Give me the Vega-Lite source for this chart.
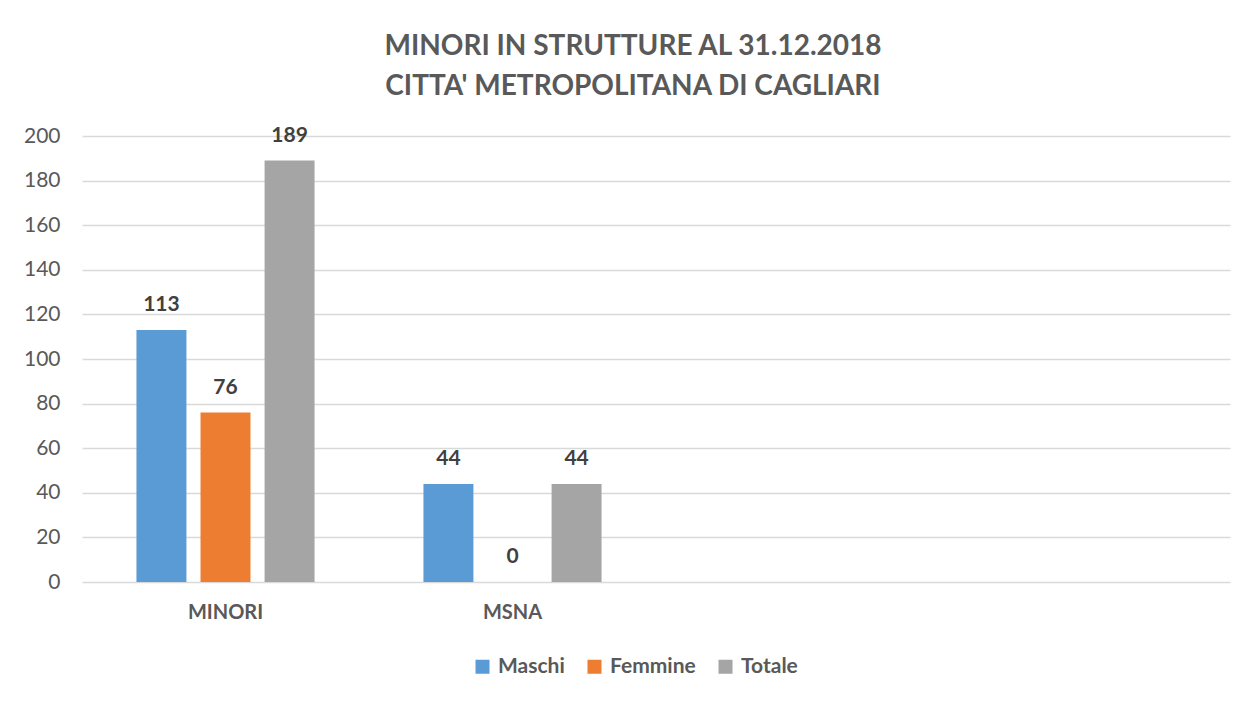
{
  "$schema": "https://vega.github.io/schema/vega-lite/v6.json",
  "width": 1148,
  "height": 446,
  "autosize": {"type": "none"},
  "padding": {"left": 82, "top": 136, "right": 28, "bottom": 120},
  "background": "white",
  "title": {
    "text": ["MINORI IN STRUTTURE AL 31.12.2018", "CITTA' METROPOLITANA DI CAGLIARI"],
    "font": "Lato",
    "fontSize": 28,
    "fontWeight": "bold",
    "color": "#595959",
    "anchor": "middle",
    "frame": "group",
    "dx": -23,
    "offset": 24,
    "lineHeight": 40
  },
  "data": {
    "values": [
      {"categoria": "MINORI", "serie": "Maschi", "valore": 113},
      {"categoria": "MINORI", "serie": "Femmine", "valore": 76},
      {"categoria": "MINORI", "serie": "Totale", "valore": 189},
      {"categoria": "MSNA", "serie": "Maschi", "valore": 44},
      {"categoria": "MSNA", "serie": "Femmine", "valore": 0},
      {"categoria": "MSNA", "serie": "Totale", "valore": 44}
    ]
  },
  "encoding": {
    "x": {
      "field": "categoria",
      "type": "nominal",
      "scale": {"domain": ["MINORI", "MSNA", "_3", "_4"], "paddingInner": 0, "paddingOuter": 0},
      "axis": {
        "title": null,
        "labelAngle": 0,
        "labelExpr": "datum.value == '_3' || datum.value == '_4' ? '' : datum.value",
        "labelFont": "Lato",
        "labelFontSize": 20,
        "labelFontWeight": "bold",
        "labelColor": "#595959",
        "labelPadding": 20,
        "ticks": false,
        "domain": false,
        "grid": false
      }
    },
    "xOffset": {
      "field": "serie",
      "type": "nominal",
      "scale": {"domain": ["Maschi", "Femmine", "Totale"], "paddingInner": 0.22, "paddingOuter": 0.85}
    },
    "y": {
      "field": "valore",
      "type": "quantitative",
      "scale": {"domain": [0, 200], "nice": false},
      "axis": {
        "title": null,
        "values": [0, 20, 40, 60, 80, 100, 120, 140, 160, 180, 200],
        "labelFont": "Lato",
        "labelFontSize": 21,
        "labelColor": "#595959",
        "labelPadding": 22,
        "ticks": false,
        "domain": false,
        "grid": true,
        "gridColor": "#d9d9d9",
        "gridWidth": 1.5
      }
    }
  },
  "layer": [
    {
      "mark": {"type": "bar"},
      "encoding": {
        "color": {
          "field": "serie",
          "type": "nominal",
          "scale": {"domain": ["Maschi", "Femmine", "Totale"], "range": ["#5b9bd5", "#ed7d31", "#a5a5a5"]},
          "legend": {
            "title": null,
            "orient": "none",
            "direction": "horizontal",
            "legendX": 390,
            "legendY": 520,
            "symbolType": "square",
            "symbolSize": 196,
            "symbolStrokeWidth": 0,
            "labelFont": "Lato",
            "labelFontSize": 21,
            "labelFontWeight": "bold",
            "labelColor": "#595959",
            "columnPadding": 19,
            "labelOffset": 5
          }
        }
      }
    },
    {
      "mark": {
        "type": "text",
        "baseline": "middle",
        "dy": -25,
        "font": "Lato",
        "fontSize": 21,
        "fontWeight": "bold",
        "color": "#404040"
      },
      "encoding": {
        "text": {"field": "valore", "type": "quantitative"}
      }
    }
  ],
  "config": {
    "view": {"stroke": null}
  }
}
